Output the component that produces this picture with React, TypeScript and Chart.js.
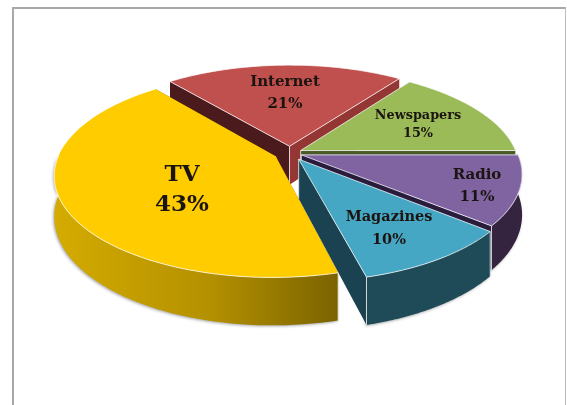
import React, { useEffect, useRef } from "react";
import { Chart, registerables } from "chart.js";

Chart.register(...registerables);

const categories = ["TV", "Internet", "Newspapers", "Radio", "Magazines"];
const shares = [43, 21, 15, 11, 10];
const explode = [16, 15, 12, 12, 16];

const topColours = ["#FFCC00", "#C0504D", "#9BBB59", "#8064A2", "#45A7C4"];
const rimColours = ["#A88800", "#7F2F2D", "#566A2C", "#35243F", "#1F4A58"];
// Walls along the two straight cuts of each slice: [leading edge, trailing edge].
const cutColours = [
  ["#7F6600", "#7F6600"],
  ["#4A1A1C", "#943634"],
  ["#4A5A24", "#4A5A24"],
  ["#2A1C3C", "#2A1C3C"],
  ["#1A4250", "#1A4250"],
];
const labelFonts = [23, 15, 12.8, 15, 14.5];
const labelGaps = [15, 11, 9, 11, 11.5];
const labelCentres = [
  [182, 190],
  [285, 93],
  [418, 124.5],
  [477, 186],
  [389, 228.5],
];

// Perspective set-up of the pie's disc.
const view = { cx: 290, cy: 153, rx: 216, ry: 98, depth: 39, tilt: 0.18 };

type Pt = [number, number];

// Maps a point of the disc plane (in rx-sized units) plus a drop below the top face to the page.
const project = (px: number, py: number, drop: number): Pt => {
  const s = 1 / (1 - (view.tilt * py) / view.rx);
  return [view.cx + px * s, view.cy + (py * view.ry * s) / view.rx + drop * view.depth * s];
};

const pie3d = {
  id: "pie3d",
  beforeDatasetsDraw(chart: any) {
    const { ctx } = chart;
    const arcs = chart.getDatasetMeta(0).data;
    const n = arcs.length;

    for (let k = 0; k < n; k++) {
      const i = (k + 1) % n;
      const arc = arcs[i];
      const a0 = arc.startAngle;
      const a1 = arc.endAngle;
      const mid = (a0 + a1) / 2;
      const ox = Math.cos(mid) * arc.options.offset;
      const oy = Math.sin(mid) * arc.options.offset;
      const at = (a: number, r: number, drop: number) =>
        project(ox + Math.cos(a) * view.rx * r, oy + Math.sin(a) * view.rx * r, drop);

      const steps = 80;
      const angles: number[] = [];
      for (let j = 0; j <= steps; j++) angles.push(a0 + ((a1 - a0) * j) / steps);
      const faces = (a: number) => Math.sin(a) > -0.02;

      const fill = (pts: Pt[], colour: any, stroke?: string) => {
        ctx.beginPath();
        pts.forEach((p, idx) => (idx ? ctx.lineTo(p[0], p[1]) : ctx.moveTo(p[0], p[1])));
        ctx.closePath();
        ctx.fillStyle = colour;
        ctx.fill();
        if (stroke) {
          ctx.strokeStyle = stroke;
          ctx.lineWidth = 1;
          ctx.stroke();
        }
      };
      const line = (pts: Pt[], colour: string) => {
        ctx.beginPath();
        pts.forEach((p, idx) => (idx ? ctx.lineTo(p[0], p[1]) : ctx.moveTo(p[0], p[1])));
        ctx.strokeStyle = colour;
        ctx.lineWidth = 1;
        ctx.stroke();
      };

      const apexTop = at(a0, 0, 0);
      const apexLow = at(a0, 0, 1);
      fill([apexTop, at(a0, 1, 0), at(a0, 1, 1), apexLow], cutColours[i][0]);
      fill([apexTop, at(a1, 1, 0), at(a1, 1, 1), apexLow], cutColours[i][1]);

      // Only the part of the outer wall turned towards the viewer gets painted.
      const front = angles.filter(faces);
      if (front.length > 1) {
        let wall: any = rimColours[i];
        if (i === 0) {
          const g = ctx.createLinearGradient(56, 0, 340, 0);
          g.addColorStop(0, "#D4AB00");
          g.addColorStop(0.55, "#B39000");
          g.addColorStop(1, "#7A6200");
          wall = g;
        }
        ctx.save();
        ctx.shadowColor = "rgba(60,60,60,0.45)";
        ctx.shadowBlur = 3;
        ctx.shadowOffsetX = -1;
        ctx.shadowOffsetY = 1;
        fill(
          [...front.map((a) => at(a, 1, 0)), ...front.slice().reverse().map((a) => at(a, 1, 1))],
          wall,
        );
        ctx.restore();
      }

      const soft = "rgba(255,255,255,0.75)";
      line([apexTop, apexLow], soft);
      [a0, a1].filter(faces).forEach((a) => line([at(a, 1, 0), at(a, 1, 1)], soft));

      const topRim = angles.map((a) => at(a, 1, 0));
      fill([apexTop, ...topRim], arc.options.backgroundColor, i === 0 ? undefined : soft);
      if (i === 0) line(front.map((a) => at(a, 1, 0)), soft);
    }

    // Slice captions: name on the first line, share on the second.
    ctx.fillStyle = "#1b1410";
    ctx.textAlign = "center";
    ctx.textBaseline = "middle";
    categories.forEach((name, i) => {
      ctx.font = `bold ${labelFonts[i]}px "DejaVu Serif"`;
      const [x, y] = labelCentres[i];
      ctx.fillText(name, x, y - labelGaps[i]);
      ctx.fillText(`${shares[i]}%`, x, y + labelGaps[i]);
    });
    return false;
  },
};

export default function App() {
  const ref = useRef<HTMLCanvasElement>(null);
  useEffect(() => {
    const chart = new Chart(ref.current!, {
      type: "pie",
      data: {
        labels: categories,
        datasets: [{ data: shares, backgroundColor: topColours, offset: explode, borderWidth: 0 }],
      },
      options: {
        responsive: false,
        animation: false,
        rotation: 165.6,
        events: [],
        plugins: { legend: { display: false }, tooltip: { enabled: false } },
      },
      plugins: [pie3d],
    } as any);
    return () => chart.destroy();
  }, []);
  return (
    <div style={{ position: "fixed", inset: 0, background: "#fff", overflow: "hidden" }}>
      <canvas ref={ref} width={567} height={405} style={{ position: "absolute", left: 0, top: 0 }} />
      <div
        style={{
          position: "absolute",
          left: 12,
          top: 7,
          width: 551,
          height: 398,
          borderLeft: "2px solid #a8a8a8",
          borderTop: "2px solid #a8a8a8",
          borderRight: "1px solid #bcbcbc",
          pointerEvents: "none",
        }}
      />
    </div>
  );
}
